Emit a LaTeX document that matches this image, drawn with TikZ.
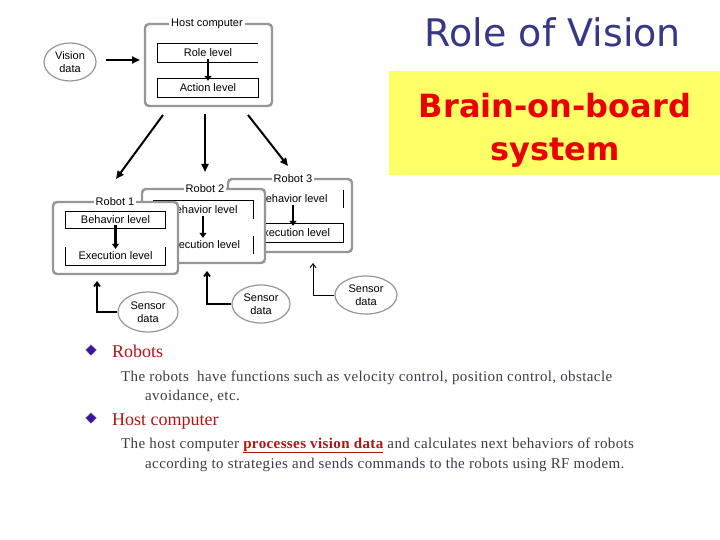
\documentclass[tikz,border=0pt]{standalone}
\usepackage{fontspec}
\setmainfont{Liberation Serif}[LetterSpace=2.6]
\newfontfamily\diagfont{Liberation Sans}
\newfontfamily\titlefont{DejaVu Sans}
\usetikzlibrary{arrows.meta,shapes.geometric}
\definecolor{framegray}{RGB}{150,150,150}
\definecolor{titleblue}{RGB}{55,55,135}
\definecolor{boxyellow}{RGB}{255,255,102}
\definecolor{brainred}{RGB}{235,0,0}
\definecolor{headred}{RGB}{178,20,20}
\definecolor{bodygray}{RGB}{60,60,70}
\definecolor{bulletblue}{RGB}{60,20,160}
\tikzset{
  frame/.style={draw=framegray,line width=2.4pt,rounded corners=4pt,fill=white},
  frametitle/.style={fill=white,inner sep=2pt,font=\diagfont\fontsize{11}{12}\selectfont},
  lvl/.style={minimum width=100pt,minimum height=18pt,inner sep=0pt,font=\diagfont\fontsize{11}{12}\selectfont},
  lvledge/.style={draw=black,line width=0.9pt},
  bigarrow/.style={line width=2pt,-{Triangle[length=8pt,width=7pt]}},
  smallarrow/.style={line width=2.2pt,-{Triangle[length=5pt,width=7pt]}},
  sensorline/.style={line width=1.8pt,-{Straight Barb[length=4pt,width=6pt]}},
  thinsensor/.style={line width=0.9pt,-{Straight Barb[length=4pt,width=6pt]}},
  bubble/.style={draw=framegray,line width=1.2pt,ellipse,inner sep=0pt,align=center,font=\diagfont\fontsize{11}{12.5}\selectfont},
  bodytext/.style={anchor=base west,inner sep=0pt,text=bodygray,font=\fontsize{15}{17}\selectfont},
  headtext/.style={anchor=base west,inner sep=0pt,text=headred,font=\addfontfeatures{LetterSpace=0}\fontsize{18}{20}\selectfont},
  bulletmark/.style={diamond,fill=bulletblue,draw=framegray,densely dotted,line width=0.6pt,minimum width=11pt,minimum height=11pt,inner sep=0pt}
}
\begin{document}
\begin{tikzpicture}[x=1pt,y=-1pt]
\useasboundingbox (0,0) rectangle (720,540);
% ---- right side title ----
\node[anchor=base,inner sep=0pt,text=titleblue,font=\titlefont\fontsize{38}{40}\selectfont] (title) at (553,47) {Role of Vision};
\fill[boxyellow] (389,71) rectangle (720,175);
\node[anchor=base,inner sep=0pt,text=brainred,font=\titlefont\bfseries\fontsize{32}{34}\selectfont] (brain) at (555,118) {Brain-on-board};
\node[anchor=base,inner sep=0pt,text=brainred,font=\titlefont\bfseries\fontsize{32}{34}\selectfont] (system) at (555,161) {system};
% ---- host computer ----
\node[bubble,minimum width=52pt,minimum height=38pt] (vision) at (70,62) {Vision\\data};
\draw[frame] (145,24) rectangle (272,106);
\node[frametitle] (hosttitle) at (207,24) {Host computer};
\node[lvl] (role) at (208,53) {Role level};
\draw[lvledge] (role.north east) -- (role.north west) -- (role.south west) -- (role.south east);
\node[lvl] (action) at (208,88) {Action level};
\draw[lvledge] (action.north west) rectangle (action.south east);
\draw[smallarrow] ([yshift=3pt]role.south) -- ([yshift=-2pt]action.north);
\coordinate (vstart) at (106,60);
\coordinate (hostin) at (140,60);
\draw[bigarrow] (vstart) -- (hostin);
% ---- arrows to robots ----
\coordinate (h1) at (163,115);
\coordinate (h2) at (205,114);
\coordinate (h3) at (248,115);
\coordinate (r1in) at (116,179);
\coordinate (r2in) at (205,172);
\coordinate (r3in) at (288,166);
\draw[bigarrow] (h1) -- (r1in);
\draw[bigarrow] (h2) -- (r2in);
\draw[bigarrow] (h3) -- (r3in);
% ---- robot 3 ----
\draw[frame] (228,179) rectangle (352,252);
\node[frametitle] (r3title) at (293,179) {Robot 3};
\node[lvl] (r3beh) at (293,199) {Behavior level};
\draw[lvledge] (r3beh.north east) -- (r3beh.south east);
\node[lvl] (r3exe) at (293,233) {Execution level};
\draw[lvledge] (r3exe.north west) -- (r3exe.north east) -- (r3exe.south east) -- (r3exe.south west);
\draw[smallarrow] ([yshift=3pt]r3beh.south) -- ([yshift=-2pt]r3exe.north);
% ---- robot 2 ----
\draw[frame] (142,189) rectangle (265,263);
\node[frametitle] (r2title) at (205,189) {Robot 2};
\node[lvl] (r2beh) at (203,210) {Behavior level};
\draw[lvledge] (r2beh.north west) -- (r2beh.north east) -- (r2beh.south east);
\node[lvl] (r2exe) at (203,245) {Execution level};
\draw[lvledge] (r2exe.north east) -- (r2exe.south east);
\draw[smallarrow] ([yshift=3pt]r2beh.south) -- ([yshift=-2pt]r2exe.north);
% ---- robot 1 ----
\draw[frame] (53,202) rectangle (178,274);
\node[frametitle] (r1title) at (115,202) {Robot 1};
\node[lvl,minimum height=16pt] (r1beh) at (115.5,220) {Behavior level};
\draw[lvledge] (r1beh.north west) rectangle (r1beh.south east);
\node[lvl] (r1exe) at (115.5,256) {Execution level};
\draw[lvledge] (r1exe.north west) -- (r1exe.south west) -- (r1exe.south east) -- (r1exe.north east);
\draw[smallarrow] ([yshift=3pt]r1beh.south) -- ([yshift=-2pt]r1exe.north);
% ---- sensor data ----
\node[bubble,minimum width=60pt,minimum height=40pt] (s1) at (148,312) {Sensor\\data};
\node[bubble,minimum width=58pt,minimum height=38pt] (s2) at (261,304) {Sensor\\data};
\node[bubble,minimum width=62pt,minimum height=38pt] (s3) at (366,295) {Sensor\\data};
\coordinate (c1) at (97,281);
\coordinate (c2) at (207,271);
\coordinate (c3) at (313,263);
\draw[sensorline] (s1.west) -| (c1);
\draw[sensorline] (s2.west) -| (c2);
\draw[thinsensor] (s3.west) -| (c3);
% ---- text ----
\node[bulletmark] (b1) at (91,350) {};
\node[headtext] (robots) at (112,357) {Robots};
\node[bodytext] (rt1) at (121,381) {The robots\ \ have functions such as velocity control, position control, obstacle};
\node[bodytext] (rt2) at (145,400) {avoidance, etc.};
\node[bulletmark] (b2) at (91,418) {};
\node[headtext] (host) at (112,425) {Host computer};
\node[bodytext] (ht1) at (121,448) {The host computer \textcolor{headred}{\textbf{\underline{processes vision data}}} and calculates next behaviors of robots};
\node[bodytext] (ht2) at (145,468) {according to strategies and sends commands to the robots using RF modem.};
\end{tikzpicture}
\end{document}
